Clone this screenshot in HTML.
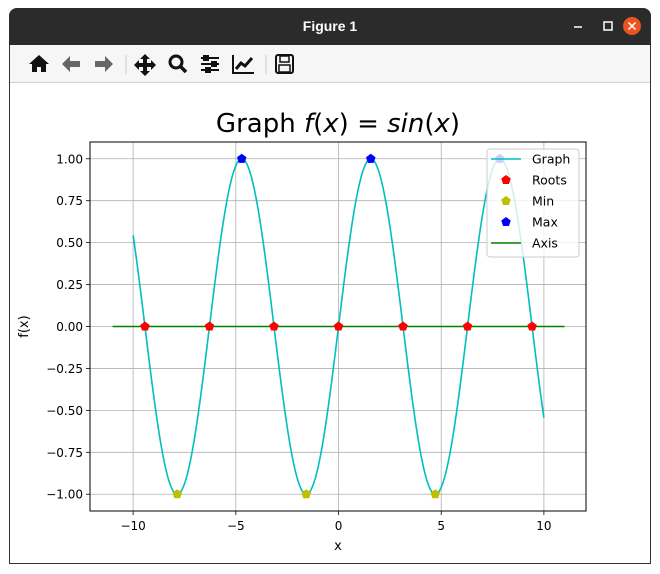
<!DOCTYPE html>
<html><head><meta charset="utf-8"><style>
body{margin:0;width:660px;height:574px;background:#fff;position:relative;overflow:hidden;font-family:"DejaVu Sans","Liberation Sans",sans-serif}
#win{position:absolute;left:9px;top:8px;width:642px;height:556px;border:1px solid #333;border-top:none;border-radius:8px 8px 0 0;background:#fff;box-sizing:border-box}
#titlebar{position:absolute;left:9px;top:8px;width:642px;height:37px;background:#2b2b2b;border-radius:8px 8px 0 0;color:#fff;font-weight:bold;font-size:14px;text-align:center;line-height:37px;font-family:"Liberation Sans",sans-serif}
#toolbar{position:absolute;left:10px;top:45px;width:640px;height:37px;background:#f6f6f6;border-bottom:1px solid #cfcfcf}
</style></head><body>
<div id="win"></div>
<div id="titlebar">Figure 1
<svg style="position:absolute;left:551px;top:0" width="82" height="37">
<line x1="14" y1="19" x2="22" y2="19" stroke="#fff" stroke-width="1.5"/>
<rect x="44" y="14" width="8" height="8" fill="none" stroke="#fff" stroke-width="1.5"/>
<circle cx="72" cy="18" r="9" fill="#e95420"/>
<path d="M68.5 14.5l7 7M75.5 14.5l-7 7" stroke="#fff" stroke-width="1.5"/>
</svg></div>
<div id="toolbar">
<svg width="640" height="37" style="position:absolute;left:0;top:0">
<g><path d="M19 19l10-9 10 9h-3v8h-5v-5h-4v5h-5v-8z" fill="#111"/></g>
<g><path d="M52 19l8-8v5h10v6H60v5z" fill="#666"/></g>
<g><path d="M103 19l-8-8v5H85v6h10v5z" fill="#666"/></g>
<line x1="116" y1="10" x2="116" y2="29" stroke="#ccc"/>
<g><path d="M135 9l5 5h-3v4h4v-3l5 5-5 5v-3h-4v4h3l-5 5-5-5h3v-4h-4v3l-5-5 5-5v3h4v-4h-3z" fill="#111"/></g>
<g><circle cx="166" cy="17" r="6" fill="none" stroke="#111" stroke-width="3"/><line x1="170" y1="21" x2="176" y2="27" stroke="#111" stroke-width="3.5"/></g>
<g stroke="#111" stroke-width="2"><line x1="191" y1="13" x2="209" y2="13"/><line x1="191" y1="19" x2="209" y2="19"/><line x1="191" y1="25" x2="209" y2="25"/><rect x="194" y="11" width="4" height="4" fill="#111"/><rect x="202" y="17" width="4" height="4" fill="#111"/><rect x="196" y="23" width="4" height="4" fill="#111"/></g>
<g><path d="M223 10v18h21" fill="none" stroke="#111" stroke-width="2"/><path d="M226 24l5-6 4 3 7-8" fill="none" stroke="#111" stroke-width="3"/></g>
<line x1="256" y1="10" x2="256" y2="29" stroke="#ccc"/>
<g><rect x="266" y="10" width="17" height="18" rx="2" fill="none" stroke="#111" stroke-width="2"/><rect x="270" y="11" width="9" height="6" fill="none" stroke="#111" stroke-width="1.5"/><rect x="269" y="20" width="11" height="7" fill="none" stroke="#111" stroke-width="1.5"/></g>
</svg></div>
<svg id="chart" width="660" height="574" style="position:absolute;left:0;top:0"></svg>
<script>
const xTicks=[-10,-5,0,5,10];
const yTicks=[-1.0,-0.75,-0.5,-0.25,0,0.25,0.5,0.75,1.0];
const yTickLabels=["−1.00","−0.75","−0.50","−0.25","0.00","0.25","0.50","0.75","1.00"];
const xTickLabels=["−10","−5","0","5","10"];
const curveX0=-10, curveX1=10;
const rootsX=[-9.4248,-6.2832,-3.1416,0,3.1416,6.2832,9.4248];
const rootsY=[0,0,0,0,0,0,0];
const minX=[-7.854,-1.5708,4.7124];
const minY=[-1,-1,-1];
const maxX=[-4.7124,1.5708,7.854];
const maxY=[1,1,1];
const axisX=[-11,11];
const axisY=[0,0];
const L=90,R=586,T=142,B=511;
const xmin=-12.1,xmax=12.05,ymin=-1.1,ymax=1.1;
const sx=v=>L+(v-xmin)/(xmax-xmin)*(R-L);
const sy=v=>B-(v-ymin)/(ymax-ymin)*(B-T);
const svg=document.getElementById('chart');
const NS='http://www.w3.org/2000/svg';
function mk(t,a,p){const e=document.createElementNS(NS,t);for(const k in a)e.setAttribute(k,a[k]);(p||svg).appendChild(e);return e;}
xTicks.forEach((v,i)=>{const g=mk('line',{x1:sx(v),x2:sx(v),y1:T,y2:B,stroke:'#b0b0b0','stroke-width':0.8});


mk('line',{x1:sx(v),x2:sx(v),y1:B,y2:B+4,stroke:'#000','stroke-width':0.8});
const t=mk('text',{x:sx(v),y:B+19,'text-anchor':'middle','font-size':12,fill:'#000'});t.textContent=xTickLabels[i];

});
yTicks.forEach((v,i)=>{const g=mk('line',{x1:L,x2:R,y1:sy(v),y2:sy(v),stroke:'#b0b0b0','stroke-width':0.8});


mk('line',{x1:L-4,x2:L,y1:sy(v),y2:sy(v),stroke:'#000','stroke-width':0.8});
const t=mk('text',{x:L-7,y:sy(v)+4.5,'text-anchor':'end','font-size':12,fill:'#000'});t.textContent=yTickLabels[i];

});
let d='';for(let i=0;i<=400;i++){const x=curveX0+(curveX1-curveX0)*i/400;d+=(i?'L':'M')+sx(x).toFixed(2)+' '+sy(Math.sin(x)).toFixed(2);}
const c=mk('path',{d:d,fill:'none',stroke:'#00bfbf','stroke-width':1.6});


const ax=mk('line',{x1:sx(axisX[0]),x2:sx(axisX[1]),y1:sy(axisY[0]),y2:sy(axisY[1]),stroke:'#008000','stroke-width':1.6});


function pent(cx,cy,r){let p='';for(let k=0;k<5;k++){const a=-Math.PI/2+k*2*Math.PI/5;p+=(cx+r*Math.cos(a)).toFixed(2)+','+(cy+r*Math.sin(a)).toFixed(2)+' ';}return p;}
function markers(xs,ys,col,name){xs.forEach((x,i)=>{const m=mk('polygon',{points:pent(sx(x),sy(ys[i]),5),fill:col});

});}
markers(rootsX,rootsY,'#ff0000','root-marker');
markers(minX,minY,'#bfbf00','min-marker');
markers(maxX,maxY,'#0000ff','max-marker');
const fr=mk('rect',{x:L,y:T,width:R-L,height:B-T,fill:'none',stroke:'#000','stroke-width':1});


const title=mk('text',{x:(L+R)/2,y:132,'text-anchor':'middle','font-size':26,fill:'#000'});


title.innerHTML='Graph <tspan font-style="italic">f</tspan>(<tspan font-style="italic">x</tspan>) = <tspan font-style="italic">sin</tspan>(<tspan font-style="italic">x</tspan>)';
const xl=mk('text',{x:(L+R)/2,y:550,'text-anchor':'middle','font-size':13});xl.textContent='x';


const yl=mk('text',{x:28,y:(T+B)/2,'text-anchor':'middle','font-size':13,transform:'rotate(-90 28 '+((T+B)/2)+')'});yl.textContent='f(x)';


const lg=mk('g',{});


mk('rect',{x:487,y:149,width:92,height:108,rx:3,fill:'#fff','fill-opacity':0.8,stroke:'#ccc'},lg);
const items=[['Graph','line','#00bfbf'],['Roots','pt','#ff0000'],['Min','pt','#bfbf00'],['Max','pt','#0000ff'],['Axis','line','#008000']];
items.forEach((it,i)=>{const y=159+i*21;const g=mk('g',{},lg);


if(it[1]=='line')mk('line',{x1:491,x2:521,y1:y,y2:y,stroke:it[2],'stroke-width':1.6},g);
else mk('polygon',{points:pent(506,y,5),fill:it[2]},g);
const t=mk('text',{x:532,y:y+4.5,'font-size':12.5},g);t.textContent=it[0];});
</script>
</body></html>
